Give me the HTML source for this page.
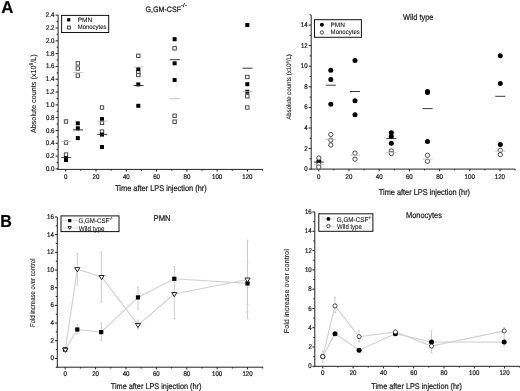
<!DOCTYPE html><html><head><meta charset="utf-8"><style>html,body{margin:0;padding:0;background:#fff;}svg{display:block;filter:grayscale(1) blur(0.35px);}text{font-family:"Liberation Sans",sans-serif;stroke:#1a1a1a;stroke-width:0.22px;text-rendering:geometricPrecision;}</style></head><body>
<svg width="520" height="391" viewBox="0 0 520 391">
<rect width="520" height="391" fill="#fff"/>
<text x="1.28" y="12.60" font-size="17" font-weight="bold" textLength="12.16" lengthAdjust="spacingAndGlyphs" fill="#000" >A</text>
<text x="0.13" y="226.90" font-size="17.4" font-weight="bold" textLength="11.60" lengthAdjust="spacingAndGlyphs" fill="#000" >B</text>
<line x1="58.10" y1="14.90" x2="58.10" y2="169.90" stroke="#222" stroke-width="1"/>
<line x1="57.60" y1="169.40" x2="262.80" y2="169.40" stroke="#222" stroke-width="1"/>
<line x1="55.60" y1="168.90" x2="58.10" y2="168.90" stroke="#222" stroke-width="1"/>
<text transform="translate(54.44,170.97) scale(0.9,1)" font-size="6.8" text-anchor="end" fill="#1a1a1a">0.0</text>
<line x1="55.60" y1="156.09" x2="58.10" y2="156.09" stroke="#222" stroke-width="1"/>
<text transform="translate(54.51,158.16) scale(0.9,1)" font-size="6.8" text-anchor="end" fill="#1a1a1a">0.2</text>
<line x1="55.60" y1="143.28" x2="58.10" y2="143.28" stroke="#222" stroke-width="1"/>
<text transform="translate(54.38,145.35) scale(0.9,1)" font-size="6.8" text-anchor="end" fill="#1a1a1a">0.4</text>
<line x1="55.60" y1="130.47" x2="58.10" y2="130.47" stroke="#222" stroke-width="1"/>
<text transform="translate(54.47,132.54) scale(0.9,1)" font-size="6.8" text-anchor="end" fill="#1a1a1a">0.6</text>
<line x1="55.60" y1="117.66" x2="58.10" y2="117.66" stroke="#222" stroke-width="1"/>
<text transform="translate(54.47,119.73) scale(0.9,1)" font-size="6.8" text-anchor="end" fill="#1a1a1a">0.8</text>
<line x1="55.60" y1="104.85" x2="58.10" y2="104.85" stroke="#222" stroke-width="1"/>
<text transform="translate(54.44,106.92) scale(0.9,1)" font-size="6.8" text-anchor="end" fill="#1a1a1a">1.0</text>
<line x1="55.60" y1="92.04" x2="58.10" y2="92.04" stroke="#222" stroke-width="1"/>
<text transform="translate(54.51,94.11) scale(0.9,1)" font-size="6.8" text-anchor="end" fill="#1a1a1a">1.2</text>
<line x1="55.60" y1="79.23" x2="58.10" y2="79.23" stroke="#222" stroke-width="1"/>
<text transform="translate(54.38,81.30) scale(0.9,1)" font-size="6.8" text-anchor="end" fill="#1a1a1a">1.4</text>
<line x1="55.60" y1="66.42" x2="58.10" y2="66.42" stroke="#222" stroke-width="1"/>
<text transform="translate(54.47,68.49) scale(0.9,1)" font-size="6.8" text-anchor="end" fill="#1a1a1a">1.6</text>
<line x1="55.60" y1="53.61" x2="58.10" y2="53.61" stroke="#222" stroke-width="1"/>
<text transform="translate(54.47,55.68) scale(0.9,1)" font-size="6.8" text-anchor="end" fill="#1a1a1a">1.8</text>
<line x1="55.60" y1="40.80" x2="58.10" y2="40.80" stroke="#222" stroke-width="1"/>
<text transform="translate(54.44,42.87) scale(0.9,1)" font-size="6.8" text-anchor="end" fill="#1a1a1a">2.0</text>
<line x1="55.60" y1="27.99" x2="58.10" y2="27.99" stroke="#222" stroke-width="1"/>
<text transform="translate(54.51,30.06) scale(0.9,1)" font-size="6.8" text-anchor="end" fill="#1a1a1a">2.2</text>
<line x1="55.60" y1="15.18" x2="58.10" y2="15.18" stroke="#222" stroke-width="1"/>
<text transform="translate(54.38,17.25) scale(0.9,1)" font-size="6.8" text-anchor="end" fill="#1a1a1a">2.4</text>
<line x1="56.60" y1="162.50" x2="58.10" y2="162.50" stroke="#222" stroke-width="1"/>
<line x1="56.60" y1="149.69" x2="58.10" y2="149.69" stroke="#222" stroke-width="1"/>
<line x1="56.60" y1="136.88" x2="58.10" y2="136.88" stroke="#222" stroke-width="1"/>
<line x1="56.60" y1="124.06" x2="58.10" y2="124.06" stroke="#222" stroke-width="1"/>
<line x1="56.60" y1="111.26" x2="58.10" y2="111.26" stroke="#222" stroke-width="1"/>
<line x1="56.60" y1="98.45" x2="58.10" y2="98.45" stroke="#222" stroke-width="1"/>
<line x1="56.60" y1="85.63" x2="58.10" y2="85.63" stroke="#222" stroke-width="1"/>
<line x1="56.60" y1="72.82" x2="58.10" y2="72.82" stroke="#222" stroke-width="1"/>
<line x1="56.60" y1="60.02" x2="58.10" y2="60.02" stroke="#222" stroke-width="1"/>
<line x1="56.60" y1="47.20" x2="58.10" y2="47.20" stroke="#222" stroke-width="1"/>
<line x1="56.60" y1="34.40" x2="58.10" y2="34.40" stroke="#222" stroke-width="1"/>
<line x1="56.60" y1="21.59" x2="58.10" y2="21.59" stroke="#222" stroke-width="1"/>
<line x1="65.70" y1="169.40" x2="65.70" y2="171.60" stroke="#222" stroke-width="1"/>
<text transform="translate(65.70,178.67) scale(0.9,1)" font-size="6.8" text-anchor="middle" fill="#1a1a1a">0</text>
<line x1="96.00" y1="169.40" x2="96.00" y2="171.60" stroke="#222" stroke-width="1"/>
<text transform="translate(95.97,178.67) scale(0.9,1)" font-size="6.8" text-anchor="middle" fill="#1a1a1a">20</text>
<line x1="126.30" y1="169.40" x2="126.30" y2="171.60" stroke="#222" stroke-width="1"/>
<text transform="translate(126.35,178.67) scale(0.9,1)" font-size="6.8" text-anchor="middle" fill="#1a1a1a">40</text>
<line x1="156.60" y1="169.40" x2="156.60" y2="171.60" stroke="#222" stroke-width="1"/>
<text transform="translate(156.56,178.67) scale(0.9,1)" font-size="6.8" text-anchor="middle" fill="#1a1a1a">60</text>
<line x1="186.90" y1="169.40" x2="186.90" y2="171.60" stroke="#222" stroke-width="1"/>
<text transform="translate(186.89,178.67) scale(0.9,1)" font-size="6.8" text-anchor="middle" fill="#1a1a1a">80</text>
<line x1="217.20" y1="169.40" x2="217.20" y2="171.60" stroke="#222" stroke-width="1"/>
<text transform="translate(217.09,178.67) scale(0.9,1)" font-size="6.8" text-anchor="middle" fill="#1a1a1a">100</text>
<line x1="247.50" y1="169.40" x2="247.50" y2="171.60" stroke="#222" stroke-width="1"/>
<text transform="translate(247.39,178.67) scale(0.9,1)" font-size="6.8" text-anchor="middle" fill="#1a1a1a">120</text>
<line x1="80.85" y1="169.40" x2="80.85" y2="170.70" stroke="#222" stroke-width="1"/>
<line x1="111.15" y1="169.40" x2="111.15" y2="170.70" stroke="#222" stroke-width="1"/>
<line x1="141.45" y1="169.40" x2="141.45" y2="170.70" stroke="#222" stroke-width="1"/>
<line x1="171.75" y1="169.40" x2="171.75" y2="170.70" stroke="#222" stroke-width="1"/>
<line x1="202.05" y1="169.40" x2="202.05" y2="170.70" stroke="#222" stroke-width="1"/>
<line x1="232.35" y1="169.40" x2="232.35" y2="170.70" stroke="#222" stroke-width="1"/>
<line x1="262.65" y1="169.40" x2="262.65" y2="170.70" stroke="#222" stroke-width="1"/>
<text x="145.54" y="11.90" font-size="7.8" textLength="35.44" lengthAdjust="spacingAndGlyphs" fill="#1a1a1a" >G,GM-CSF</text>
<text x="181.13" y="7.00" font-size="5.5" textLength="5.63" lengthAdjust="spacingAndGlyphs" fill="#1a1a1a" >-/-</text>
<text x="115.13" y="190.60" font-size="8.4" textLength="91.62" lengthAdjust="spacingAndGlyphs" fill="#1a1a1a" >Time after LPS injection (hr)</text>
<g transform="translate(35.60,133.11) rotate(-90) scale(0.9649,1)"><text x="0" y="0" font-size="7.5" fill="#1a1a1a" style="stroke-width:0.1px">Absolute counts (x10<tspan font-size="5.10" dy="-2.70">9</tspan><tspan dy="2.70">/L)</tspan></text></g>
<rect x="61.60" y="15.40" width="47.10" height="17.10" fill="#fff" stroke="#111" stroke-width="1"/>
<rect x="67.10" y="18.20" width="3.2" height="3.2" fill="#000"/>
<rect x="67.40" y="26.00" width="3.0" height="3.0" fill="#fff" stroke="#3a3a3a" stroke-width="0.9"/>
<text x="77.66" y="22.10" font-size="6.3" textLength="14.57" lengthAdjust="spacingAndGlyphs" fill="#1a1a1a" style="stroke-width:0.1px">PMN</text>
<text x="77.71" y="29.40" font-size="6.3" textLength="28.80" lengthAdjust="spacingAndGlyphs" fill="#1a1a1a" style="stroke-width:0.1px">Monocytes</text>
<rect x="64.30" y="119.80" width="3.4000000000000004" height="3.4000000000000004" fill="#fff" stroke="#3a3a3a" stroke-width="0.9"/>
<rect x="64.30" y="140.90" width="3.4000000000000004" height="3.4000000000000004" fill="#fff" stroke="#3a3a3a" stroke-width="0.9"/>
<rect x="64.30" y="152.90" width="3.4000000000000004" height="3.4000000000000004" fill="#fff" stroke="#3a3a3a" stroke-width="0.9"/>
<rect x="64.00" y="156.20" width="4" height="4" fill="#000"/>
<rect x="64.00" y="158.00" width="4" height="4" fill="#000"/>
<rect x="76.10" y="61.70" width="3.4000000000000004" height="3.4000000000000004" fill="#fff" stroke="#3a3a3a" stroke-width="0.9"/>
<rect x="76.10" y="66.80" width="3.4000000000000004" height="3.4000000000000004" fill="#fff" stroke="#3a3a3a" stroke-width="0.9"/>
<rect x="76.10" y="73.90" width="3.4000000000000004" height="3.4000000000000004" fill="#fff" stroke="#3a3a3a" stroke-width="0.9"/>
<rect x="75.80" y="121.30" width="4" height="4" fill="#000"/>
<rect x="75.80" y="126.30" width="4" height="4" fill="#000"/>
<rect x="75.80" y="136.10" width="4" height="4" fill="#000"/>
<rect x="100.30" y="105.80" width="3.4000000000000004" height="3.4000000000000004" fill="#fff" stroke="#3a3a3a" stroke-width="0.9"/>
<rect x="100.30" y="121.20" width="3.4000000000000004" height="3.4000000000000004" fill="#fff" stroke="#3a3a3a" stroke-width="0.9"/>
<rect x="100.30" y="129.90" width="3.4000000000000004" height="3.4000000000000004" fill="#fff" stroke="#3a3a3a" stroke-width="0.9"/>
<rect x="100.00" y="117.10" width="4" height="4" fill="#000"/>
<rect x="100.00" y="132.60" width="4" height="4" fill="#000"/>
<rect x="100.00" y="145.00" width="4" height="4" fill="#000"/>
<rect x="136.60" y="54.10" width="3.4000000000000004" height="3.4000000000000004" fill="#fff" stroke="#3a3a3a" stroke-width="0.9"/>
<rect x="136.60" y="70.70" width="3.4000000000000004" height="3.4000000000000004" fill="#fff" stroke="#3a3a3a" stroke-width="0.9"/>
<rect x="136.60" y="73.30" width="3.4000000000000004" height="3.4000000000000004" fill="#fff" stroke="#3a3a3a" stroke-width="0.9"/>
<rect x="136.30" y="67.10" width="4" height="4" fill="#000"/>
<rect x="136.30" y="82.40" width="4" height="4" fill="#000"/>
<rect x="136.30" y="103.80" width="4" height="4" fill="#000"/>
<rect x="172.90" y="46.60" width="3.4000000000000004" height="3.4000000000000004" fill="#fff" stroke="#3a3a3a" stroke-width="0.9"/>
<rect x="172.90" y="114.10" width="3.4000000000000004" height="3.4000000000000004" fill="#fff" stroke="#3a3a3a" stroke-width="0.9"/>
<rect x="172.90" y="120.00" width="3.4000000000000004" height="3.4000000000000004" fill="#fff" stroke="#3a3a3a" stroke-width="0.9"/>
<rect x="172.60" y="37.20" width="4" height="4" fill="#000"/>
<rect x="172.60" y="61.30" width="4" height="4" fill="#000"/>
<rect x="172.60" y="78.00" width="4" height="4" fill="#000"/>
<rect x="245.60" y="75.30" width="3.4000000000000004" height="3.4000000000000004" fill="#fff" stroke="#3a3a3a" stroke-width="0.9"/>
<rect x="245.60" y="94.60" width="3.4000000000000004" height="3.4000000000000004" fill="#fff" stroke="#3a3a3a" stroke-width="0.9"/>
<rect x="245.60" y="105.80" width="3.4000000000000004" height="3.4000000000000004" fill="#fff" stroke="#3a3a3a" stroke-width="0.9"/>
<rect x="245.30" y="23.00" width="4" height="4" fill="#000"/>
<rect x="245.30" y="82.20" width="4" height="4" fill="#000"/>
<rect x="245.30" y="89.70" width="4" height="4" fill="#000"/>
<line x1="61.20" y1="141.50" x2="71.20" y2="141.50" stroke="#c0c0c0" stroke-width="0.9"/>
<line x1="61.20" y1="157.60" x2="71.20" y2="157.60" stroke="#262626" stroke-width="0.9"/>
<line x1="73.00" y1="72.60" x2="83.00" y2="72.60" stroke="#c0c0c0" stroke-width="0.9"/>
<line x1="73.00" y1="129.90" x2="83.00" y2="129.90" stroke="#262626" stroke-width="0.9"/>
<line x1="97.20" y1="121.10" x2="107.20" y2="121.10" stroke="#c0c0c0" stroke-width="0.9"/>
<line x1="97.20" y1="134.40" x2="107.20" y2="134.40" stroke="#262626" stroke-width="0.9"/>
<line x1="133.50" y1="67.10" x2="143.50" y2="67.10" stroke="#c0c0c0" stroke-width="0.9"/>
<line x1="133.50" y1="85.50" x2="143.50" y2="85.50" stroke="#262626" stroke-width="0.9"/>
<line x1="169.80" y1="98.70" x2="179.80" y2="98.70" stroke="#c0c0c0" stroke-width="0.9"/>
<line x1="169.80" y1="59.70" x2="179.80" y2="59.70" stroke="#262626" stroke-width="0.9"/>
<line x1="242.50" y1="91.70" x2="252.50" y2="91.70" stroke="#c0c0c0" stroke-width="0.9"/>
<line x1="242.50" y1="68.20" x2="252.50" y2="68.20" stroke="#262626" stroke-width="0.9"/>
<line x1="311.20" y1="15.10" x2="311.20" y2="169.60" stroke="#222" stroke-width="1"/>
<line x1="310.70" y1="169.10" x2="515.20" y2="169.10" stroke="#222" stroke-width="1"/>
<line x1="308.70" y1="169.10" x2="311.20" y2="169.10" stroke="#222" stroke-width="1"/>
<text transform="translate(307.64,171.17) scale(0.9,1)" font-size="6.8" text-anchor="end" fill="#1a1a1a">0</text>
<line x1="308.70" y1="148.53" x2="311.20" y2="148.53" stroke="#222" stroke-width="1"/>
<text transform="translate(307.71,150.60) scale(0.9,1)" font-size="6.8" text-anchor="end" fill="#1a1a1a">2</text>
<line x1="308.70" y1="127.96" x2="311.20" y2="127.96" stroke="#222" stroke-width="1"/>
<text transform="translate(307.58,130.03) scale(0.9,1)" font-size="6.8" text-anchor="end" fill="#1a1a1a">4</text>
<line x1="308.70" y1="107.38" x2="311.20" y2="107.38" stroke="#222" stroke-width="1"/>
<text transform="translate(307.67,109.46) scale(0.9,1)" font-size="6.8" text-anchor="end" fill="#1a1a1a">6</text>
<line x1="308.70" y1="86.81" x2="311.20" y2="86.81" stroke="#222" stroke-width="1"/>
<text transform="translate(307.67,88.89) scale(0.9,1)" font-size="6.8" text-anchor="end" fill="#1a1a1a">8</text>
<line x1="308.70" y1="66.24" x2="311.20" y2="66.24" stroke="#222" stroke-width="1"/>
<text transform="translate(307.64,68.31) scale(0.9,1)" font-size="6.8" text-anchor="end" fill="#1a1a1a">10</text>
<line x1="308.70" y1="45.67" x2="311.20" y2="45.67" stroke="#222" stroke-width="1"/>
<text transform="translate(307.71,47.74) scale(0.9,1)" font-size="6.8" text-anchor="end" fill="#1a1a1a">12</text>
<line x1="308.70" y1="25.10" x2="311.20" y2="25.10" stroke="#222" stroke-width="1"/>
<text transform="translate(307.58,27.17) scale(0.9,1)" font-size="6.8" text-anchor="end" fill="#1a1a1a">14</text>
<line x1="309.70" y1="158.81" x2="311.20" y2="158.81" stroke="#222" stroke-width="1"/>
<line x1="309.70" y1="138.24" x2="311.20" y2="138.24" stroke="#222" stroke-width="1"/>
<line x1="309.70" y1="117.67" x2="311.20" y2="117.67" stroke="#222" stroke-width="1"/>
<line x1="309.70" y1="97.10" x2="311.20" y2="97.10" stroke="#222" stroke-width="1"/>
<line x1="309.70" y1="76.53" x2="311.20" y2="76.53" stroke="#222" stroke-width="1"/>
<line x1="309.70" y1="55.95" x2="311.20" y2="55.95" stroke="#222" stroke-width="1"/>
<line x1="309.70" y1="35.38" x2="311.20" y2="35.38" stroke="#222" stroke-width="1"/>
<line x1="309.70" y1="14.81" x2="311.20" y2="14.81" stroke="#222" stroke-width="1"/>
<line x1="318.80" y1="169.10" x2="318.80" y2="171.30" stroke="#222" stroke-width="1"/>
<text transform="translate(318.80,178.77) scale(0.9,1)" font-size="6.8" text-anchor="middle" fill="#1a1a1a">0</text>
<line x1="349.00" y1="169.10" x2="349.00" y2="171.30" stroke="#222" stroke-width="1"/>
<text transform="translate(348.97,178.77) scale(0.9,1)" font-size="6.8" text-anchor="middle" fill="#1a1a1a">20</text>
<line x1="379.20" y1="169.10" x2="379.20" y2="171.30" stroke="#222" stroke-width="1"/>
<text transform="translate(379.25,178.77) scale(0.9,1)" font-size="6.8" text-anchor="middle" fill="#1a1a1a">40</text>
<line x1="409.40" y1="169.10" x2="409.40" y2="171.30" stroke="#222" stroke-width="1"/>
<text transform="translate(409.36,178.77) scale(0.9,1)" font-size="6.8" text-anchor="middle" fill="#1a1a1a">60</text>
<line x1="439.60" y1="169.10" x2="439.60" y2="171.30" stroke="#222" stroke-width="1"/>
<text transform="translate(439.59,178.77) scale(0.9,1)" font-size="6.8" text-anchor="middle" fill="#1a1a1a">80</text>
<line x1="469.80" y1="169.10" x2="469.80" y2="171.30" stroke="#222" stroke-width="1"/>
<text transform="translate(469.69,178.77) scale(0.9,1)" font-size="6.8" text-anchor="middle" fill="#1a1a1a">100</text>
<line x1="500.00" y1="169.10" x2="500.00" y2="171.30" stroke="#222" stroke-width="1"/>
<text transform="translate(499.89,178.77) scale(0.9,1)" font-size="6.8" text-anchor="middle" fill="#1a1a1a">120</text>
<line x1="333.90" y1="169.10" x2="333.90" y2="170.40" stroke="#222" stroke-width="1"/>
<line x1="364.10" y1="169.10" x2="364.10" y2="170.40" stroke="#222" stroke-width="1"/>
<line x1="394.30" y1="169.10" x2="394.30" y2="170.40" stroke="#222" stroke-width="1"/>
<line x1="424.50" y1="169.10" x2="424.50" y2="170.40" stroke="#222" stroke-width="1"/>
<line x1="454.70" y1="169.10" x2="454.70" y2="170.40" stroke="#222" stroke-width="1"/>
<line x1="484.90" y1="169.10" x2="484.90" y2="170.40" stroke="#222" stroke-width="1"/>
<line x1="515.10" y1="169.10" x2="515.10" y2="170.40" stroke="#222" stroke-width="1"/>
<text x="402.97" y="20.00" font-size="8.3" textLength="30.46" lengthAdjust="spacingAndGlyphs" fill="#1a1a1a" >Wild type</text>
<text x="378.84" y="194.70" font-size="8.4" textLength="91.22" lengthAdjust="spacingAndGlyphs" fill="#1a1a1a" >Time after LPS injection (hr)</text>
<g transform="translate(291.20,119.71) rotate(-90) scale(0.9256,1)"><text x="0" y="0" font-size="6.5" fill="#1a1a1a" style="stroke-width:0.1px">Absolute counts (x10<tspan font-size="4.42" dy="-2.34">9</tspan><tspan dy="2.34">/L)</tspan></text></g>
<rect x="314.50" y="19.70" width="46.90" height="17.60" fill="#fff" stroke="#111" stroke-width="1"/>
<circle cx="321.90" cy="24.80" r="2.0" fill="#000"/>
<circle cx="321.90" cy="32.50" r="1.6500000000000001" fill="#fff" stroke="#3a3a3a" stroke-width="0.9"/>
<text x="330.57" y="26.60" font-size="6.3" textLength="14.36" lengthAdjust="spacingAndGlyphs" fill="#1a1a1a" style="stroke-width:0.1px">PMN</text>
<text x="330.60" y="34.00" font-size="6.3" textLength="29.21" lengthAdjust="spacingAndGlyphs" fill="#1a1a1a" style="stroke-width:0.1px">Monocytes</text>
<circle cx="318.80" cy="161.50" r="2.5" fill="#000"/>
<circle cx="318.80" cy="158.00" r="2.15" fill="#fff" stroke="#3a3a3a" stroke-width="0.9"/>
<circle cx="318.80" cy="164.40" r="2.15" fill="#fff" stroke="#3a3a3a" stroke-width="0.9"/>
<circle cx="318.80" cy="167.00" r="2.15" fill="#fff" stroke="#3a3a3a" stroke-width="0.9"/>
<circle cx="330.80" cy="70.30" r="2.5" fill="#000"/>
<circle cx="330.80" cy="79.60" r="2.5" fill="#000"/>
<circle cx="330.80" cy="104.30" r="2.5" fill="#000"/>
<circle cx="330.80" cy="134.50" r="2.15" fill="#fff" stroke="#3a3a3a" stroke-width="0.9"/>
<circle cx="330.80" cy="140.10" r="2.15" fill="#fff" stroke="#3a3a3a" stroke-width="0.9"/>
<circle cx="330.80" cy="145.00" r="2.15" fill="#fff" stroke="#3a3a3a" stroke-width="0.9"/>
<circle cx="355.00" cy="60.50" r="2.5" fill="#000"/>
<circle cx="355.00" cy="100.70" r="2.5" fill="#000"/>
<circle cx="355.00" cy="114.80" r="2.5" fill="#000"/>
<circle cx="355.00" cy="153.10" r="2.15" fill="#fff" stroke="#3a3a3a" stroke-width="0.9"/>
<circle cx="355.00" cy="159.20" r="2.15" fill="#fff" stroke="#3a3a3a" stroke-width="0.9"/>
<circle cx="391.30" cy="132.80" r="2.5" fill="#000"/>
<circle cx="391.30" cy="136.50" r="2.5" fill="#000"/>
<circle cx="391.30" cy="143.20" r="2.5" fill="#000"/>
<circle cx="391.30" cy="150.90" r="2.15" fill="#fff" stroke="#3a3a3a" stroke-width="0.9"/>
<circle cx="391.30" cy="153.60" r="2.15" fill="#fff" stroke="#3a3a3a" stroke-width="0.9"/>
<circle cx="427.50" cy="91.50" r="2.5" fill="#000"/>
<circle cx="427.50" cy="92.50" r="2.5" fill="#000"/>
<circle cx="427.50" cy="141.50" r="2.5" fill="#000"/>
<circle cx="427.50" cy="155.30" r="2.15" fill="#fff" stroke="#3a3a3a" stroke-width="0.9"/>
<circle cx="427.50" cy="161.30" r="2.15" fill="#fff" stroke="#3a3a3a" stroke-width="0.9"/>
<circle cx="500.30" cy="55.70" r="2.5" fill="#000"/>
<circle cx="500.30" cy="83.40" r="2.5" fill="#000"/>
<circle cx="500.30" cy="144.40" r="2.5" fill="#000"/>
<circle cx="500.30" cy="150.30" r="2.15" fill="#fff" stroke="#3a3a3a" stroke-width="0.9"/>
<circle cx="500.30" cy="154.60" r="2.15" fill="#fff" stroke="#3a3a3a" stroke-width="0.9"/>
<line x1="313.80" y1="164.70" x2="323.80" y2="164.70" stroke="#c0c0c0" stroke-width="0.9"/>
<line x1="313.80" y1="162.10" x2="323.80" y2="162.10" stroke="#262626" stroke-width="0.9"/>
<line x1="325.80" y1="139.30" x2="335.80" y2="139.30" stroke="#c0c0c0" stroke-width="0.9"/>
<line x1="325.80" y1="85.20" x2="335.80" y2="85.20" stroke="#262626" stroke-width="0.9"/>
<line x1="350.00" y1="155.20" x2="360.00" y2="155.20" stroke="#c0c0c0" stroke-width="0.9"/>
<line x1="350.00" y1="91.50" x2="360.00" y2="91.50" stroke="#262626" stroke-width="0.9"/>
<line x1="386.30" y1="152.40" x2="396.30" y2="152.40" stroke="#c0c0c0" stroke-width="0.9"/>
<line x1="386.30" y1="138.60" x2="396.30" y2="138.60" stroke="#262626" stroke-width="0.9"/>
<line x1="422.50" y1="159.00" x2="432.50" y2="159.00" stroke="#c0c0c0" stroke-width="0.9"/>
<line x1="422.50" y1="108.60" x2="432.50" y2="108.60" stroke="#262626" stroke-width="0.9"/>
<line x1="495.30" y1="151.10" x2="505.30" y2="151.10" stroke="#c0c0c0" stroke-width="0.9"/>
<line x1="495.30" y1="96.30" x2="505.30" y2="96.30" stroke="#262626" stroke-width="0.9"/>
<line x1="57.30" y1="216.90" x2="57.30" y2="367.70" stroke="#222" stroke-width="1"/>
<line x1="56.80" y1="367.20" x2="263.00" y2="367.20" stroke="#222" stroke-width="1"/>
<line x1="54.80" y1="358.40" x2="57.30" y2="358.40" stroke="#222" stroke-width="1"/>
<text transform="translate(53.84,360.47) scale(0.9,1)" font-size="6.8" text-anchor="end" fill="#1a1a1a">0</text>
<line x1="54.80" y1="340.72" x2="57.30" y2="340.72" stroke="#222" stroke-width="1"/>
<text transform="translate(53.91,342.79) scale(0.9,1)" font-size="6.8" text-anchor="end" fill="#1a1a1a">2</text>
<line x1="54.80" y1="323.04" x2="57.30" y2="323.04" stroke="#222" stroke-width="1"/>
<text transform="translate(53.78,325.11) scale(0.9,1)" font-size="6.8" text-anchor="end" fill="#1a1a1a">4</text>
<line x1="54.80" y1="305.36" x2="57.30" y2="305.36" stroke="#222" stroke-width="1"/>
<text transform="translate(53.87,307.43) scale(0.9,1)" font-size="6.8" text-anchor="end" fill="#1a1a1a">6</text>
<line x1="54.80" y1="287.68" x2="57.30" y2="287.68" stroke="#222" stroke-width="1"/>
<text transform="translate(53.87,289.75) scale(0.9,1)" font-size="6.8" text-anchor="end" fill="#1a1a1a">8</text>
<line x1="54.80" y1="270.00" x2="57.30" y2="270.00" stroke="#222" stroke-width="1"/>
<text transform="translate(53.84,272.07) scale(0.9,1)" font-size="6.8" text-anchor="end" fill="#1a1a1a">10</text>
<line x1="54.80" y1="252.32" x2="57.30" y2="252.32" stroke="#222" stroke-width="1"/>
<text transform="translate(53.91,254.39) scale(0.9,1)" font-size="6.8" text-anchor="end" fill="#1a1a1a">12</text>
<line x1="54.80" y1="234.64" x2="57.30" y2="234.64" stroke="#222" stroke-width="1"/>
<text transform="translate(53.78,236.71) scale(0.9,1)" font-size="6.8" text-anchor="end" fill="#1a1a1a">14</text>
<line x1="54.80" y1="216.96" x2="57.30" y2="216.96" stroke="#222" stroke-width="1"/>
<text transform="translate(53.87,219.03) scale(0.9,1)" font-size="6.8" text-anchor="end" fill="#1a1a1a">16</text>
<line x1="55.80" y1="367.24" x2="57.30" y2="367.24" stroke="#222" stroke-width="1"/>
<line x1="55.80" y1="349.56" x2="57.30" y2="349.56" stroke="#222" stroke-width="1"/>
<line x1="55.80" y1="331.88" x2="57.30" y2="331.88" stroke="#222" stroke-width="1"/>
<line x1="55.80" y1="314.20" x2="57.30" y2="314.20" stroke="#222" stroke-width="1"/>
<line x1="55.80" y1="296.52" x2="57.30" y2="296.52" stroke="#222" stroke-width="1"/>
<line x1="55.80" y1="278.84" x2="57.30" y2="278.84" stroke="#222" stroke-width="1"/>
<line x1="55.80" y1="261.16" x2="57.30" y2="261.16" stroke="#222" stroke-width="1"/>
<line x1="55.80" y1="243.48" x2="57.30" y2="243.48" stroke="#222" stroke-width="1"/>
<line x1="55.80" y1="225.80" x2="57.30" y2="225.80" stroke="#222" stroke-width="1"/>
<line x1="65.20" y1="367.20" x2="65.20" y2="369.40" stroke="#222" stroke-width="1"/>
<text transform="translate(65.20,376.17) scale(0.9,1)" font-size="6.8" text-anchor="middle" fill="#1a1a1a">0</text>
<line x1="95.60" y1="367.20" x2="95.60" y2="369.40" stroke="#222" stroke-width="1"/>
<text transform="translate(95.57,376.17) scale(0.9,1)" font-size="6.8" text-anchor="middle" fill="#1a1a1a">20</text>
<line x1="126.00" y1="367.20" x2="126.00" y2="369.40" stroke="#222" stroke-width="1"/>
<text transform="translate(126.05,376.17) scale(0.9,1)" font-size="6.8" text-anchor="middle" fill="#1a1a1a">40</text>
<line x1="156.40" y1="367.20" x2="156.40" y2="369.40" stroke="#222" stroke-width="1"/>
<text transform="translate(156.36,376.17) scale(0.9,1)" font-size="6.8" text-anchor="middle" fill="#1a1a1a">60</text>
<line x1="186.80" y1="367.20" x2="186.80" y2="369.40" stroke="#222" stroke-width="1"/>
<text transform="translate(186.79,376.17) scale(0.9,1)" font-size="6.8" text-anchor="middle" fill="#1a1a1a">80</text>
<line x1="217.20" y1="367.20" x2="217.20" y2="369.40" stroke="#222" stroke-width="1"/>
<text transform="translate(217.09,376.17) scale(0.9,1)" font-size="6.8" text-anchor="middle" fill="#1a1a1a">100</text>
<line x1="247.60" y1="367.20" x2="247.60" y2="369.40" stroke="#222" stroke-width="1"/>
<text transform="translate(247.49,376.17) scale(0.9,1)" font-size="6.8" text-anchor="middle" fill="#1a1a1a">120</text>
<line x1="80.40" y1="367.20" x2="80.40" y2="368.50" stroke="#222" stroke-width="1"/>
<line x1="110.80" y1="367.20" x2="110.80" y2="368.50" stroke="#222" stroke-width="1"/>
<line x1="141.20" y1="367.20" x2="141.20" y2="368.50" stroke="#222" stroke-width="1"/>
<line x1="171.60" y1="367.20" x2="171.60" y2="368.50" stroke="#222" stroke-width="1"/>
<line x1="202.00" y1="367.20" x2="202.00" y2="368.50" stroke="#222" stroke-width="1"/>
<line x1="232.40" y1="367.20" x2="232.40" y2="368.50" stroke="#222" stroke-width="1"/>
<line x1="262.80" y1="367.20" x2="262.80" y2="368.50" stroke="#222" stroke-width="1"/>
<text x="153.57" y="221.30" font-size="8.2" textLength="17.06" lengthAdjust="spacingAndGlyphs" fill="#1a1a1a" >PMN</text>
<text x="110.74" y="388.80" font-size="8.2" textLength="90.72" lengthAdjust="spacingAndGlyphs" fill="#1a1a1a" >Time after LPS injection (hr)</text>
<g transform="translate(35.40,326.99) rotate(-90)"><text x="0" y="0" font-size="7.0" textLength="68.49" lengthAdjust="spacingAndGlyphs" fill="#1a1a1a" style="stroke-width:0.1px">Fold increase over control</text></g>
<line x1="246.50" y1="262.00" x2="248.50" y2="262.00" stroke="#cdcdcd" stroke-width="1"/>
<line x1="246.50" y1="304.60" x2="248.50" y2="304.60" stroke="#cdcdcd" stroke-width="1"/>
<line x1="246.50" y1="311.90" x2="248.50" y2="311.90" stroke="#cdcdcd" stroke-width="1"/>
<line x1="77.30" y1="253.90" x2="77.30" y2="285.00" stroke="#cdcdcd" stroke-width="1"/>
<line x1="76.30" y1="253.90" x2="78.30" y2="253.90" stroke="#cdcdcd" stroke-width="1"/>
<line x1="76.30" y1="285.00" x2="78.30" y2="285.00" stroke="#cdcdcd" stroke-width="1"/>
<line x1="77.30" y1="324.40" x2="77.30" y2="334.00" stroke="#cdcdcd" stroke-width="1"/>
<line x1="76.30" y1="324.40" x2="78.30" y2="324.40" stroke="#cdcdcd" stroke-width="1"/>
<line x1="76.30" y1="334.00" x2="78.30" y2="334.00" stroke="#cdcdcd" stroke-width="1"/>
<line x1="101.30" y1="252.00" x2="101.30" y2="302.00" stroke="#cdcdcd" stroke-width="1"/>
<line x1="100.30" y1="252.00" x2="102.30" y2="252.00" stroke="#cdcdcd" stroke-width="1"/>
<line x1="100.30" y1="302.00" x2="102.30" y2="302.00" stroke="#cdcdcd" stroke-width="1"/>
<line x1="101.30" y1="323.10" x2="101.30" y2="340.40" stroke="#cdcdcd" stroke-width="1"/>
<line x1="100.30" y1="323.10" x2="102.30" y2="323.10" stroke="#cdcdcd" stroke-width="1"/>
<line x1="100.30" y1="340.40" x2="102.30" y2="340.40" stroke="#cdcdcd" stroke-width="1"/>
<line x1="138.00" y1="287.00" x2="138.00" y2="309.10" stroke="#cdcdcd" stroke-width="1"/>
<line x1="137.00" y1="287.00" x2="139.00" y2="287.00" stroke="#cdcdcd" stroke-width="1"/>
<line x1="137.00" y1="309.10" x2="139.00" y2="309.10" stroke="#cdcdcd" stroke-width="1"/>
<line x1="138.00" y1="320.20" x2="138.00" y2="329.00" stroke="#cdcdcd" stroke-width="1"/>
<line x1="137.00" y1="320.20" x2="139.00" y2="320.20" stroke="#cdcdcd" stroke-width="1"/>
<line x1="137.00" y1="329.00" x2="139.00" y2="329.00" stroke="#cdcdcd" stroke-width="1"/>
<line x1="174.30" y1="266.60" x2="174.30" y2="318.60" stroke="#cdcdcd" stroke-width="1"/>
<line x1="173.30" y1="266.60" x2="175.30" y2="266.60" stroke="#cdcdcd" stroke-width="1"/>
<line x1="173.30" y1="318.60" x2="175.30" y2="318.60" stroke="#cdcdcd" stroke-width="1"/>
<line x1="247.50" y1="240.20" x2="247.50" y2="319.00" stroke="#cdcdcd" stroke-width="1"/>
<line x1="246.50" y1="240.20" x2="248.50" y2="240.20" stroke="#cdcdcd" stroke-width="1"/>
<line x1="246.50" y1="319.00" x2="248.50" y2="319.00" stroke="#cdcdcd" stroke-width="1"/>
<polyline points="65.3,349.7 77.3,329.5 101.2,332.1 138.0,297.4 174.3,278.8 247.5,283.4" fill="none" stroke="#d2d2d2" stroke-width="1.15"/>
<polyline points="65.3,349.7 77.3,269.1 101.6,277.0 138.0,324.9 174.3,294.0 247.5,279.5" fill="none" stroke="#d2d2d2" stroke-width="1.15"/>
<rect x="62.90" y="347.30" width="4.4" height="4.4" fill="#000"/>
<rect x="75.20" y="327.40" width="4.2" height="4.2" fill="#000"/>
<rect x="99.10" y="330.00" width="4.2" height="4.2" fill="#000"/>
<rect x="135.90" y="295.30" width="4.2" height="4.2" fill="#000"/>
<rect x="172.20" y="276.70" width="4.2" height="4.2" fill="#000"/>
<rect x="245.40" y="281.30" width="4.2" height="4.2" fill="#000"/>
<polygon points="62.70,348.20 67.90,348.20 65.30,352.40" fill="#fff" stroke="#262626" stroke-width="1.0" stroke-linejoin="miter"/>
<polygon points="74.70,267.60 79.90,267.60 77.30,271.80" fill="#fff" stroke="#262626" stroke-width="1.0" stroke-linejoin="miter"/>
<polygon points="99.00,275.50 104.20,275.50 101.60,279.70" fill="#fff" stroke="#262626" stroke-width="1.0" stroke-linejoin="miter"/>
<polygon points="135.40,323.40 140.60,323.40 138.00,327.60" fill="#fff" stroke="#262626" stroke-width="1.0" stroke-linejoin="miter"/>
<polygon points="171.70,292.50 176.90,292.50 174.30,296.70" fill="#fff" stroke="#262626" stroke-width="1.0" stroke-linejoin="miter"/>
<polygon points="244.90,278.00 250.10,278.00 247.50,282.20" fill="#fff" stroke="#262626" stroke-width="1.0" stroke-linejoin="miter"/>
<rect x="61.00" y="215.90" width="58.00" height="15.70" fill="#fff" stroke="#111" stroke-width="1"/>
<line x1="61.70" y1="220.60" x2="77.70" y2="220.60" stroke="#d8d8d8" stroke-width="1"/>
<line x1="61.70" y1="228.00" x2="77.70" y2="228.00" stroke="#d8d8d8" stroke-width="1"/>
<rect x="68.10" y="219.00" width="3.2" height="3.2" fill="#000"/>
<polygon points="68.00,226.60 71.40,226.60 69.70,229.40" fill="#fff" stroke="#262626" stroke-width="1.0" stroke-linejoin="miter"/>
<text x="78.59" y="223.10" font-size="6.8" textLength="30.76" lengthAdjust="spacingAndGlyphs" fill="#1a1a1a" style="stroke-width:0.1px">G,GM-CSF</text>
<text x="109.24" y="219.80" font-size="4.4" textLength="3.31" lengthAdjust="spacingAndGlyphs" fill="#1a1a1a" >-/-</text>
<text x="78.87" y="230.50" font-size="6.8" textLength="25.60" lengthAdjust="spacingAndGlyphs" fill="#1a1a1a" style="stroke-width:0.1px">Wild type</text>
<line x1="314.80" y1="211.90" x2="314.80" y2="366.80" stroke="#222" stroke-width="1"/>
<line x1="314.30" y1="366.30" x2="519.80" y2="366.30" stroke="#222" stroke-width="1"/>
<line x1="312.30" y1="366.30" x2="314.80" y2="366.30" stroke="#222" stroke-width="1"/>
<text transform="translate(311.74,368.37) scale(0.9,1)" font-size="6.8" text-anchor="end" fill="#1a1a1a">0</text>
<line x1="312.30" y1="347.01" x2="314.80" y2="347.01" stroke="#222" stroke-width="1"/>
<text transform="translate(311.81,349.09) scale(0.9,1)" font-size="6.8" text-anchor="end" fill="#1a1a1a">2</text>
<line x1="312.30" y1="327.72" x2="314.80" y2="327.72" stroke="#222" stroke-width="1"/>
<text transform="translate(311.68,329.80) scale(0.9,1)" font-size="6.8" text-anchor="end" fill="#1a1a1a">4</text>
<line x1="312.30" y1="308.44" x2="314.80" y2="308.44" stroke="#222" stroke-width="1"/>
<text transform="translate(311.77,310.51) scale(0.9,1)" font-size="6.8" text-anchor="end" fill="#1a1a1a">6</text>
<line x1="312.30" y1="289.15" x2="314.80" y2="289.15" stroke="#222" stroke-width="1"/>
<text transform="translate(311.77,291.22) scale(0.9,1)" font-size="6.8" text-anchor="end" fill="#1a1a1a">8</text>
<line x1="312.30" y1="269.86" x2="314.80" y2="269.86" stroke="#222" stroke-width="1"/>
<text transform="translate(311.74,271.93) scale(0.9,1)" font-size="6.8" text-anchor="end" fill="#1a1a1a">10</text>
<line x1="312.30" y1="250.57" x2="314.80" y2="250.57" stroke="#222" stroke-width="1"/>
<text transform="translate(311.81,252.65) scale(0.9,1)" font-size="6.8" text-anchor="end" fill="#1a1a1a">12</text>
<line x1="312.30" y1="231.28" x2="314.80" y2="231.28" stroke="#222" stroke-width="1"/>
<text transform="translate(311.68,233.36) scale(0.9,1)" font-size="6.8" text-anchor="end" fill="#1a1a1a">14</text>
<line x1="312.30" y1="212.00" x2="314.80" y2="212.00" stroke="#222" stroke-width="1"/>
<text transform="translate(311.77,214.07) scale(0.9,1)" font-size="6.8" text-anchor="end" fill="#1a1a1a">16</text>
<line x1="313.30" y1="356.66" x2="314.80" y2="356.66" stroke="#222" stroke-width="1"/>
<line x1="313.30" y1="337.37" x2="314.80" y2="337.37" stroke="#222" stroke-width="1"/>
<line x1="313.30" y1="318.08" x2="314.80" y2="318.08" stroke="#222" stroke-width="1"/>
<line x1="313.30" y1="298.79" x2="314.80" y2="298.79" stroke="#222" stroke-width="1"/>
<line x1="313.30" y1="279.50" x2="314.80" y2="279.50" stroke="#222" stroke-width="1"/>
<line x1="313.30" y1="260.22" x2="314.80" y2="260.22" stroke="#222" stroke-width="1"/>
<line x1="313.30" y1="240.93" x2="314.80" y2="240.93" stroke="#222" stroke-width="1"/>
<line x1="313.30" y1="221.64" x2="314.80" y2="221.64" stroke="#222" stroke-width="1"/>
<line x1="322.80" y1="366.30" x2="322.80" y2="368.50" stroke="#222" stroke-width="1"/>
<text transform="translate(322.80,375.47) scale(0.9,1)" font-size="6.8" text-anchor="middle" fill="#1a1a1a">0</text>
<line x1="353.10" y1="366.30" x2="353.10" y2="368.50" stroke="#222" stroke-width="1"/>
<text transform="translate(353.07,375.47) scale(0.9,1)" font-size="6.8" text-anchor="middle" fill="#1a1a1a">20</text>
<line x1="383.40" y1="366.30" x2="383.40" y2="368.50" stroke="#222" stroke-width="1"/>
<text transform="translate(383.45,375.47) scale(0.9,1)" font-size="6.8" text-anchor="middle" fill="#1a1a1a">40</text>
<line x1="413.70" y1="366.30" x2="413.70" y2="368.50" stroke="#222" stroke-width="1"/>
<text transform="translate(413.66,375.47) scale(0.9,1)" font-size="6.8" text-anchor="middle" fill="#1a1a1a">60</text>
<line x1="444.00" y1="366.30" x2="444.00" y2="368.50" stroke="#222" stroke-width="1"/>
<text transform="translate(443.99,375.47) scale(0.9,1)" font-size="6.8" text-anchor="middle" fill="#1a1a1a">80</text>
<line x1="474.30" y1="366.30" x2="474.30" y2="368.50" stroke="#222" stroke-width="1"/>
<text transform="translate(474.19,375.47) scale(0.9,1)" font-size="6.8" text-anchor="middle" fill="#1a1a1a">100</text>
<line x1="504.60" y1="366.30" x2="504.60" y2="368.50" stroke="#222" stroke-width="1"/>
<text transform="translate(504.49,375.47) scale(0.9,1)" font-size="6.8" text-anchor="middle" fill="#1a1a1a">120</text>
<line x1="337.95" y1="366.30" x2="337.95" y2="367.60" stroke="#222" stroke-width="1"/>
<line x1="368.25" y1="366.30" x2="368.25" y2="367.60" stroke="#222" stroke-width="1"/>
<line x1="398.55" y1="366.30" x2="398.55" y2="367.60" stroke="#222" stroke-width="1"/>
<line x1="428.85" y1="366.30" x2="428.85" y2="367.60" stroke="#222" stroke-width="1"/>
<line x1="459.15" y1="366.30" x2="459.15" y2="367.60" stroke="#222" stroke-width="1"/>
<line x1="489.45" y1="366.30" x2="489.45" y2="367.60" stroke="#222" stroke-width="1"/>
<line x1="519.75" y1="366.30" x2="519.75" y2="367.60" stroke="#222" stroke-width="1"/>
<text x="405.99" y="217.80" font-size="8.4" textLength="35.88" lengthAdjust="spacingAndGlyphs" fill="#1a1a1a" >Monocytes</text>
<text x="371.24" y="388.50" font-size="8.2" textLength="90.72" lengthAdjust="spacingAndGlyphs" fill="#1a1a1a" >Time after LPS injection (hr)</text>
<g transform="translate(288.60,333.30) rotate(-90)"><text x="0" y="0" font-size="7.2" textLength="84.09" lengthAdjust="spacingAndGlyphs" fill="#1a1a1a" style="stroke-width:0.1px">Fold increase over control</text></g>
<line x1="322.80" y1="351.30" x2="322.80" y2="362.60" stroke="#cdcdcd" stroke-width="1"/>
<line x1="321.80" y1="351.30" x2="323.80" y2="351.30" stroke="#cdcdcd" stroke-width="1"/>
<line x1="321.80" y1="362.60" x2="323.80" y2="362.60" stroke="#cdcdcd" stroke-width="1"/>
<line x1="335.00" y1="297.20" x2="335.00" y2="312.50" stroke="#cdcdcd" stroke-width="1"/>
<line x1="334.00" y1="297.20" x2="336.00" y2="297.20" stroke="#cdcdcd" stroke-width="1"/>
<line x1="334.00" y1="312.50" x2="336.00" y2="312.50" stroke="#cdcdcd" stroke-width="1"/>
<line x1="359.10" y1="330.70" x2="359.10" y2="342.00" stroke="#cdcdcd" stroke-width="1"/>
<line x1="358.10" y1="330.70" x2="360.10" y2="330.70" stroke="#cdcdcd" stroke-width="1"/>
<line x1="358.10" y1="342.00" x2="360.10" y2="342.00" stroke="#cdcdcd" stroke-width="1"/>
<line x1="431.50" y1="330.90" x2="431.50" y2="353.00" stroke="#cdcdcd" stroke-width="1"/>
<line x1="430.50" y1="330.90" x2="432.50" y2="330.90" stroke="#cdcdcd" stroke-width="1"/>
<line x1="430.50" y1="353.00" x2="432.50" y2="353.00" stroke="#cdcdcd" stroke-width="1"/>
<line x1="504.20" y1="327.50" x2="504.20" y2="346.00" stroke="#cdcdcd" stroke-width="1"/>
<line x1="503.20" y1="327.50" x2="505.20" y2="327.50" stroke="#cdcdcd" stroke-width="1"/>
<line x1="503.20" y1="346.00" x2="505.20" y2="346.00" stroke="#cdcdcd" stroke-width="1"/>
<polyline points="322.8,356.6 335.0,333.7 359.1,350.2 395.4,333.8 431.5,341.9 504.2,342.1" fill="none" stroke="#d2d2d2" stroke-width="1.15"/>
<polyline points="322.8,356.6 335.0,305.9 359.1,336.7 395.4,331.9 431.5,346.1 504.2,330.9" fill="none" stroke="#d2d2d2" stroke-width="1.15"/>
<circle cx="322.80" cy="356.60" r="2.5" fill="#000"/>
<circle cx="335.00" cy="333.70" r="2.5" fill="#000"/>
<circle cx="359.10" cy="350.20" r="2.5" fill="#000"/>
<circle cx="395.40" cy="333.80" r="2.5" fill="#000"/>
<circle cx="431.50" cy="341.90" r="2.5" fill="#000"/>
<circle cx="504.20" cy="342.10" r="2.5" fill="#000"/>
<circle cx="322.80" cy="356.60" r="2.05" fill="#fff" stroke="#3a3a3a" stroke-width="0.9"/>
<circle cx="335.00" cy="305.90" r="2.05" fill="#fff" stroke="#3a3a3a" stroke-width="0.9"/>
<circle cx="359.10" cy="336.70" r="2.05" fill="#fff" stroke="#3a3a3a" stroke-width="0.9"/>
<circle cx="395.40" cy="331.90" r="2.05" fill="#fff" stroke="#3a3a3a" stroke-width="0.9"/>
<circle cx="431.50" cy="346.10" r="2.05" fill="#fff" stroke="#3a3a3a" stroke-width="0.9"/>
<circle cx="504.20" cy="330.90" r="2.05" fill="#fff" stroke="#3a3a3a" stroke-width="0.9"/>
<rect x="318.80" y="213.80" width="54.10" height="17.50" fill="#fff" stroke="#111" stroke-width="1"/>
<line x1="321.60" y1="218.90" x2="335.30" y2="218.90" stroke="#d8d8d8" stroke-width="1"/>
<line x1="321.60" y1="226.10" x2="335.30" y2="226.10" stroke="#d8d8d8" stroke-width="1"/>
<circle cx="328.40" cy="218.90" r="1.9" fill="#000"/>
<circle cx="328.40" cy="226.10" r="1.6500000000000001" fill="#fff" stroke="#3a3a3a" stroke-width="0.9"/>
<text x="336.78" y="221.90" font-size="6.8" textLength="31.57" lengthAdjust="spacingAndGlyphs" fill="#1a1a1a" style="stroke-width:0.1px">G,GM-CSF</text>
<text x="368.15" y="218.60" font-size="4.4" textLength="3.20" lengthAdjust="spacingAndGlyphs" fill="#1a1a1a" >-/-</text>
<text x="337.07" y="229.10" font-size="6.8" textLength="24.69" lengthAdjust="spacingAndGlyphs" fill="#1a1a1a" style="stroke-width:0.1px">Wild type</text>
</svg></body></html>
